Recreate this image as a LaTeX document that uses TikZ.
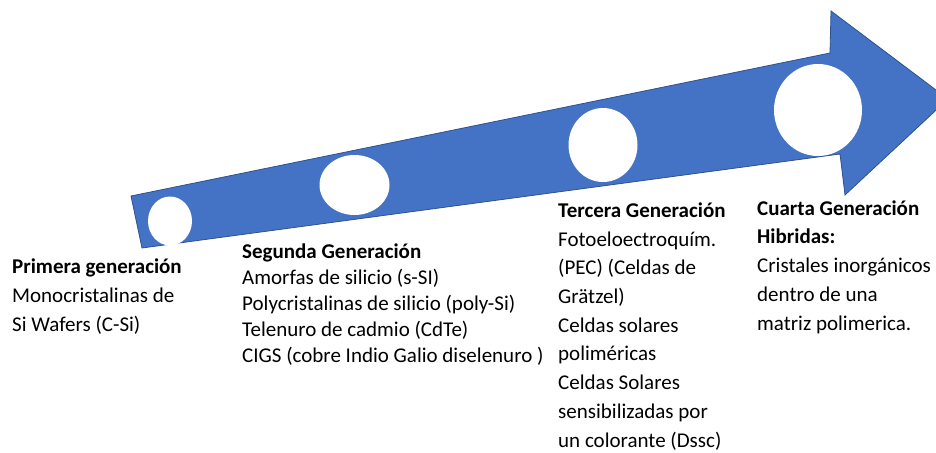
\documentclass[tikz,border=0pt]{standalone}
\usepackage{fontspec}
\setmainfont{Carlito}
\usepackage{tikz}
\definecolor{arrowblue}{HTML}{4472C4}
\definecolor{arrowline}{HTML}{2F528F}
\tikzset{%
    gen/.style={anchor=base west,align=left,inner sep=0pt,font=\fontsize{21}{28.7}\selectfont},
    hole/.style={fill=white,draw=none}
}
\begin{document}
\begin{tikzpicture}[x=1pt,y=-1pt]
    \useasboundingbox (0,0) rectangle (936,452);
    % flecha
    \draw[fill=arrowblue,draw=arrowline,line width=0.8pt,line join=miter]
        (131,196) -- (830,53) -- (831,11) -- (948,99) -- (845,195) -- (840,154) -- (142,248) -- cycle;
    % circulos
    \fill[hole] (170,221) ellipse [x radius=22,y radius=24.5];
    \fill[hole] (354.5,185) ellipse [x radius=35,y radius=30];
    \fill[hole] (603,145) ellipse [x radius=34.5,y radius=37];
    \fill[hole] (818,110) ellipse [x radius=44,y radius=46];

    % textos (anclados en la ultima linea)
    \node[gen] (primera) at (12,331) {\textbf{Primera generación}\\Monocristalinas de\\Si Wafers (C-Si)};
    \node[gen,font=\fontsize{21}{26}\selectfont] (segunda) at (242,362) {\textbf{Segunda Generación}\\Amorfas de silicio (s-SI)\\Polycristalinas de silicio (poly-Si)\\Telenuro de cadmio (CdTe)\\CIGS (cobre Indio Galio diselenuro )};
    \node[gen] (tercera) at (558,447) {\textbf{Tercera Generación}\\Fotoeloectroquím.\\(PEC) (Celdas de\\Grätzel)\\Celdas solares\\poliméricas\\Celdas Solares\\sensibilizadas por\\un colorante (Dssc)};
    \node[gen] (cuarta) at (757,330) {\textbf{Cuarta Generación}\\\textbf{Hibridas:}\\Cristales inorgánicos\\dentro de una\\matriz polimerica.};
\end{tikzpicture}
\end{document}
